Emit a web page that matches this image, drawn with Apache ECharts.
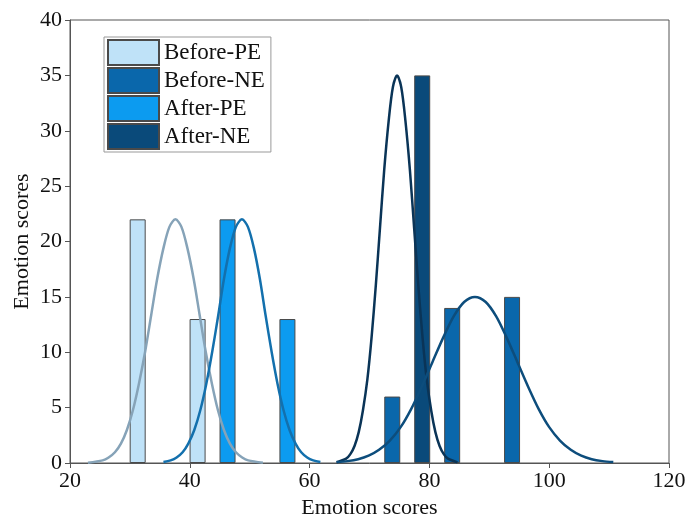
<!DOCTYPE html>
<html>
<head>
    <meta charset="UTF-8">
    <title>Emotion scores</title>
    <style>
        html, body {
            height: 100%;
            margin: 0;
            padding: 0;
            background: #fff;
        }
        #chart-container {
            width: 687px;
            height: 519px;
        }
    </style>
</head>
<body>
<div id="chart-container"></div>

<script src="https://cdn.jsdelivr.net/npm/echarts@6/dist/echarts.min.js"></script>
<script>
    // bars: [score, count]
    const beforePE = [[31.3, 22], [41.3, 13]];
    const afterPE = [[46.3, 22], [56.3, 13]];
    const beforeNE = [[73.8, 6], [83.8, 14], [93.8, 15]];
    const afterNE = [[78.8, 35]];

    // fitted curves, points
    const beforePECurve = [[23.0, 0.03], [25.45, 0.24], [26.45, 0.5], [27.5, 0.97], [28.5, 1.75], [29.5, 2.98], [30.5, 4.76], [31.5, 7.14],
        [32.55, 10.07], [33.55, 13.34], [34.55, 16.61], [35.6, 19.4], [36.6, 21.32], [37.6, 22], [38.6, 21.32], [39.6, 19.4],
        [40.65, 16.61], [41.65, 13.34], [42.65, 10.07], [43.7, 7.14], [44.7, 4.76], [45.7, 2.98], [46.7, 1.75], [47.7, 0.97],
        [48.75, 0.5], [49.75, 0.24], [52.2, 0.03]];
    const afterPECurve = [[35.6, 0.09], [36.8, 0.24], [37.8, 0.5], [38.8, 0.97], [39.75, 1.75], [40.75, 2.98], [41.75, 4.76], [42.75, 7.14],
        [43.75, 10.07], [44.75, 13.34], [45.7, 16.61], [46.7, 19.4], [47.7, 21.32], [48.7, 22], [49.7, 21.32], [50.7, 19.4],
        [51.7, 16.61], [52.65, 13.34], [53.65, 10.07], [54.65, 7.14], [55.65, 4.76], [56.65, 2.98], [57.65, 1.75], [58.6, 0.97],
        [59.6, 0.5], [60.6, 0.24], [61.8, 0.09]];
    const afterNECurve = [[64.5, 0.06], [66.1, 0.39], [66.8, 0.8], [67.5, 1.54], [68.2, 2.79], [68.9, 4.74], [69.65, 7.57], [70.35, 11.36],
        [71.05, 16.02], [71.75, 21.23], [72.45, 26.42], [73.2, 30.89], [73.9, 33.92], [74.6, 35], [75.3, 33.92], [76.0, 30.89],
        [76.75, 26.42], [77.45, 21.23], [78.15, 16.02], [78.85, 11.36], [79.55, 7.57], [80.3, 4.74], [81.0, 2.79], [81.7, 1.54],
        [82.4, 0.8], [83.1, 0.39], [84.7, 0.06]];
    const beforeNECurve = [[64.5, 0.08], [66.3, 0.17], [68.1, 0.34], [69.85, 0.66], [71.6, 1.19], [73.4, 2.03], [75.2, 3.24], [76.95, 4.87],
        [78.7, 6.87], [80.5, 9.1], [82.3, 11.32], [84.05, 13.24], [85.8, 14.54], [87.6, 15], [89.4, 14.54], [91.15, 13.24],
        [92.9, 11.32], [94.7, 9.1], [96.5, 6.87], [98.25, 4.87], [100.0, 3.24], [101.8, 2.03], [103.6, 1.19], [105.35, 0.66],
        [107.1, 0.34], [108.9, 0.17], [110.7, 0.08]];

    const legendNames = ['Before-PE', 'Before-NE', 'After-PE', 'After-NE'];

    const font = 'Liberation Serif';
    const chart = echarts.init(document.getElementById('chart-container'));

    function barSeries(name, data, color) {
        return {
            name: name,
            type: 'bar',
            data: data,
            barWidth: 16,
            barGap: '-100%',
            itemStyle: { color: color, borderColor: '#4a4a4a', borderWidth: 1 }
        };
    }

    function curveSeries(data, color) {
        return {
            type: 'line',
            data: data,
            smooth: 0.3,
            showSymbol: false,
            silent: true,
            z: 3,
            lineStyle: { color: color, width: 2.5 }
        };
    }

    const option = {
        animation: false,
        grid: {
            left: 70, right: 18, top: 20, bottom: 56,
            outerBoundsMode: 'none',
            show: true, borderColor: '#555', borderWidth: 1
        },
        legend: {
            data: legendNames,
            orient: 'vertical',
            left: 104, top: 37,
            itemWidth: 51, itemHeight: 25, itemGap: 1,
            padding: [2, 6, 2, 3],
            borderColor: '#999', borderWidth: 1,
            icon: 'rect',
            textStyle: { fontFamily: font, fontSize: 23, color: '#111' }
        },
        xAxis: {
            type: 'value',
            min: 20, max: 120, interval: 20,
            name: 'Emotion scores',
            nameLocation: 'middle',
            nameGap: 33,
            nameTextStyle: { fontFamily: font, fontSize: 22, color: '#111' },
            axisLine: { lineStyle: { color: '#555' } },
            axisTick: { show: true, length: 5, lineStyle: { color: '#555' } },
            axisLabel: { fontFamily: font, fontSize: 22, color: '#111', margin: 7 },
            splitLine: { show: false }
        },
        yAxis: {
            type: 'value',
            min: 0, max: 40, interval: 5,
            name: 'Emotion scores',
            nameLocation: 'middle',
            nameGap: 37,
            nameMoveOverlap: false,
            nameTextStyle: { fontFamily: font, fontSize: 22, color: '#111' },
            axisLine: { show: true, lineStyle: { color: '#555' } },
            axisTick: { show: true, length: 5, lineStyle: { color: '#555' } },
            axisLabel: { fontFamily: font, fontSize: 22, color: '#111', margin: 8 },
            splitLine: { show: false }
        },
        series: [
            barSeries('Before-PE', beforePE, '#bfe2f8'),
            barSeries('Before-NE', beforeNE, '#0a67ab'),
            barSeries('After-PE', afterPE, '#0c9bf0'),
            barSeries('After-NE', afterNE, '#0a4a7a'),
            curveSeries(beforePECurve, '#86a3b8'),
            curveSeries(afterPECurve, '#1370ad'),
            curveSeries(afterNECurve, '#0a3457'),
            curveSeries(beforeNECurve, '#0d4d7c')
        ]
    };

    chart.setOption(option);
</script>
</body>
</html>
